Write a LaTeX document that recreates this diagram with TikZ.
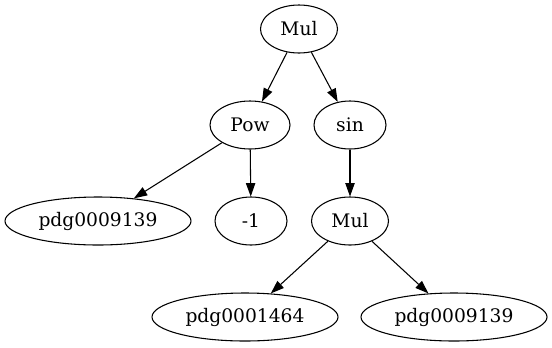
\documentclass[tikz,border=0pt]{standalone}
\usepackage{fontspec}
\setmainfont{DejaVu Serif}
\usetikzlibrary{shapes.geometric,arrows.meta}

\begin{document}
\begin{tikzpicture}[x=0.75pt, y=-0.75pt, line width=0.8pt, >={Triangle[length=10pt,width=7pt]}]
  \tikzstyle{termnode} = [ellipse, draw, inner sep=0pt, minimum height=36pt, minimum width=54pt, font=\fontsize{14}{16}\selectfont]
  \useasboundingbox (0,0) rectangle (552,347);

  \node[termnode, minimum width=57.75pt] (mul1) at (299,29) {Mul};
  \node[termnode, minimum width=60pt] (pow) at (250,125) {Pow};
  \node[termnode] (sin) at (350,125) {sin};
  \node[termnode, minimum width=139.5pt] (var1) at (98,221) {pdg0009139};
  \node[termnode] (neg1) at (251,221) {-1};
  \node[termnode, minimum width=57.75pt] (mul2) at (350,221) {Mul};
  \node[termnode, minimum width=139.5pt] (var2) at (245,317) {pdg0001464};
  \node[termnode, minimum width=139.5pt] (var3) at (454,317) {pdg0009139};

  \draw[->] (mul1) -- (pow);
  \draw[->] (mul1) -- (sin);
  \draw[->] (pow) -- (var1);
  \draw[->] (pow) -- (neg1);
  \draw[->] (sin) -- (mul2);
  \draw[->] (mul2) -- (var2);
  \draw[->] (mul2) -- (var3);
\end{tikzpicture}
\end{document}
